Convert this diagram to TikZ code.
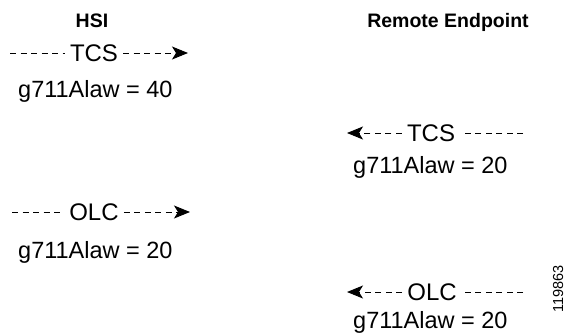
\documentclass[tikz,border=0pt]{standalone}
\usepackage{fontspec}
\setmainfont{Liberation Sans}
\usetikzlibrary{arrows.meta}
\begin{document}
\begin{tikzpicture}[x=1pt,y=-1pt,
  hdr/.style={font=\fontsize{19.5}{22}\selectfont\bfseries, anchor=base, inner sep=0pt},
  lbl/.style={font=\fontsize{24}{26}\selectfont, inner xsep=5pt, inner ysep=0pt},
  val/.style={font=\fontsize{23.5}{26}\selectfont, anchor=base west, inner sep=0pt},
  msg/.style={line width=1pt, dash pattern=on 6pt off 4.5pt,
    -{Stealth[length=16pt,width=13pt,inset=4pt]}},
  ident/.style={font=\fontsize{14.5}{16}\selectfont, rotate=90, inner sep=0pt}]
\useasboundingbox (0,0) rectangle (569,335);
\node[hdr] (hsi) at (92,27) {HSI};
\node[hdr] (rem) at (448,27) {Remote Endpoint};
% TCS from HSI
\coordinate (t1s) at (10,53);
\coordinate (t1e) at (188,53);
\node[lbl] (t1) at (94,53) {TCS};
\draw[msg] (t1s) -- (t1) -- (t1e);
\node[val] (v1) at (18,97) {g711Alaw = 40};
% TCS from Remote
\coordinate (t2s) at (523,133);
\coordinate (t2e) at (347,133);
\node[lbl] (t2) at (431,133) {TCS};
\draw[msg] (t2s) -- (t2) -- (t2e);
\node[val] (v2) at (353,173) {g711Alaw = 20};
% OLC from HSI
\coordinate (o1s) at (12,212);
\coordinate (o1e) at (190,212);
\node[lbl] (o1) at (94,212) {OLC};
\draw[msg] (o1s) -- (o1) -- (o1e);
\node[val] (v3) at (18,258) {g711Alaw = 20};
% OLC from Remote
\coordinate (o2s) at (523,292);
\coordinate (o2e) at (347,292);
\node[lbl] (o2) at (432,292) {OLC};
\draw[msg] (o2s) -- (o2) -- (o2e);
\node[val] (v4) at (353,328) {g711Alaw = 20};
\node[ident] (id) at (558,289) {119863};
\end{tikzpicture}
\end{document}
